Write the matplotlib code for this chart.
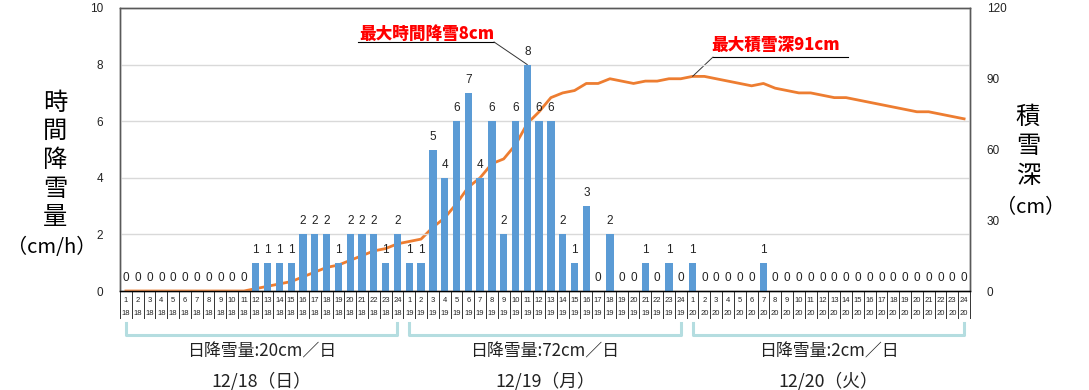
import matplotlib
matplotlib.use('Agg')
import matplotlib.pyplot as plt
import matplotlib.transforms as mtransforms

plt.rcParams['font.family'] = ['Liberation Sans', 'Noto Sans CJK JP']
JP = ['Noto Sans CJK JP', 'DejaVu Sans']

day_labels = ['18', '19', '20']
hour_labels = [str(h) for h in range(1, 25)]
day_totals = ['日降雪量:20cm／日', '日降雪量:72cm／日', '日降雪量:2cm／日']
day_titles = ['12/18（日）', '12/19（月）', '12/20（火）']

snow_18 = [0, 0, 0, 0, 0, 0, 0, 0, 0, 0, 0, 1, 1, 1, 1, 2, 2, 2, 1, 2, 2, 2, 1, 2]
snow_19 = [1, 1, 5, 4, 6, 7, 4, 6, 2, 6, 8, 6, 6, 2, 1, 3, 0, 2, 0, 0, 1, 0, 1, 0]
snow_20 = [1, 0, 0, 0, 0, 0, 1, 0, 0, 0, 0, 0, 0, 0, 0, 0, 0, 0, 0, 0, 0, 0, 0, 0]

depth_18 = [0, 0, 0, 0, 0, 0, 0, 0, 0, 0, 0, 1, 2, 3, 4, 6, 8, 10, 11, 13, 15, 17, 18, 20]
depth_19 = [21, 22, 27, 31, 37, 44, 48, 54, 56, 62, 71, 76, 82, 84, 85, 88, 88, 90, 89, 88, 89, 89, 90, 90]
depth_20 = [91, 91, 90, 89, 88, 87, 88, 86, 85, 84, 84, 83, 82, 82, 81, 80, 79, 78, 77, 76, 76, 75, 74, 73]

snow = snow_18 + snow_19 + snow_20
depth = depth_18 + depth_19 + depth_20
x = list(range(len(snow)))

fig = plt.figure(figsize=(10.89, 3.9), dpi=100)
ax = fig.add_axes([120 / 1089, 99 / 390, 850 / 1089, 283 / 390])
ax2 = ax.twinx()

bars = ax.bar(x, snow, width=0.62, color='#5B9BD5', zorder=2)
ax.bar_label(bars, padding=5, fontsize=8.5, color='#222222')
ax2.plot(x, depth, color='#ED7D31', lw=2, zorder=3)

ax.set_xlim(-0.5, len(snow) - 0.5)
ax.set_ylim(0, 10)
ax2.set_ylim(0, 120)
ax.set_yticks([0, 2, 4, 6, 8, 10])
ax2.set_yticks([0, 30, 60, 90, 120])
ax.set_xticks([])
ax.tick_params(axis='y', length=0, pad=12, labelsize=8.5, colors='#222222')
ax2.tick_params(axis='y', length=0, pad=12, labelsize=8.5, colors='#222222')
ax.grid(axis='y', color='#d9d9d9', lw=1, zorder=0)
ax.set_axisbelow(True)
for a in (ax, ax2):
    for s in a.spines.values():
        s.set_color('#595959')
        s.set_linewidth(1)
ax.spines['bottom'].set_color('black')
ax.set_zorder(ax2.get_zorder() + 1)
ax.patch.set_visible(False)

# hour / day table under the axis
tr = mtransforms.blended_transform_factory(ax.transData, ax.transAxes)
for i in x:
    ax.text(i, -0.032, hour_labels[i % 24], transform=tr, fontsize=5.5,
            ha='center', va='center', color='#222222', clip_on=False)
    ax.text(i, -0.078, day_labels[i // 24], transform=tr, fontsize=5.5,
            ha='center', va='center', color='#222222', clip_on=False)
for b in range(len(snow) + 1):
    ax.plot([b - 0.5, b - 0.5], [0, -0.095], transform=tr, color='#333333',
            lw=0.7, clip_on=False)

# day brackets and captions
for d in range(3):
    x0, x1 = d * 24, d * 24 + 23
    ax.plot([x0, x0, x1, x1], [-0.113, -0.155, -0.155, -0.113], transform=tr,
            color='#b4dde0', lw=2.2, clip_on=False)
    ax.text((x0 + x1) / 2, -0.215, day_totals[d], transform=tr, fontsize=12.2,
            family=JP, ha='center', va='center', color='#222222')
    ax.text((x0 + x1) / 2, -0.318, day_titles[d], transform=tr, fontsize=12.8,
            family=JP, ha='center', va='center', color='#222222')

# axis titles
fig.text(55 / 1089, 1 - 160 / 390, '時\n間\n降\n雪\n量', fontsize=17.5, family=JP,
         ha='center', va='center', linespacing=1.13)
fig.text(52 / 1089, 1 - 248 / 390, '（cm/h）', fontsize=14.5, family=JP,
         ha='center', va='center')
fig.text(1028 / 1089, 1 - 146 / 390, '積\n雪\n深', fontsize=17.5, family=JP,
         ha='center', va='center', linespacing=1.18)
fig.text(1031 / 1089, 1 - 208 / 390, '（cm）', fontsize=14.5, family=JP,
         ha='center', va='center')

# annotations
ax.plot([19.66, 31.18], [8.8, 8.8], color='black', lw=0.8, clip_on=False)
ax.annotate('', xy=(34, 8), xytext=(31.18, 8.8),
            arrowprops=dict(arrowstyle='-', color='#333333', lw=0.7, shrinkA=0, shrinkB=0))
ax.text(19.8, 9.1, '最大時間降雪8cm', fontsize=12, family=JP, weight='black',
        color='red', ha='left', va='center')
ax2.plot([49.73, 61.16], [99.2, 99.2], color='black', lw=0.8, clip_on=False)
ax2.annotate('', xy=(48, 91), xytext=(49.73, 99.2),
             arrowprops=dict(arrowstyle='-', color='#333333', lw=0.7, shrinkA=0, shrinkB=0))
ax2.text(49.6, 104.5, '最大積雪深91cm', fontsize=12, family=JP, weight='black',
         color='red', ha='left', va='center')

fig.savefig('out.png', dpi=100)
